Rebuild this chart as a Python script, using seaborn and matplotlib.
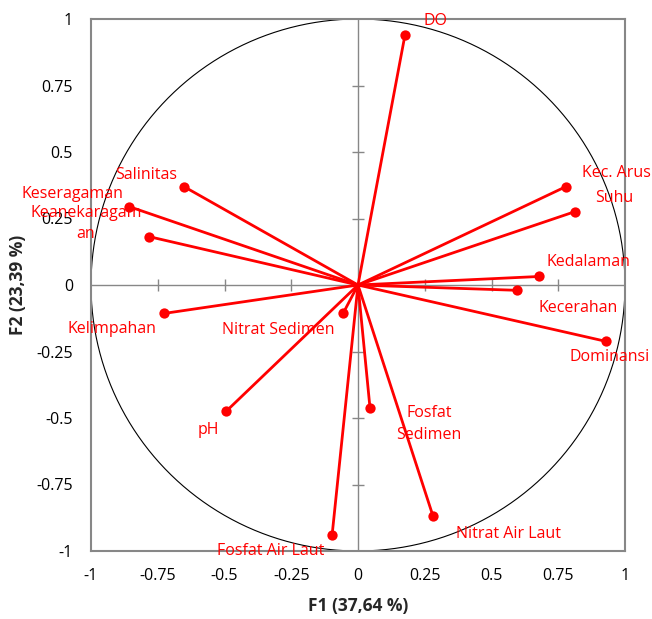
import matplotlib
matplotlib.use("Agg")
import matplotlib.pyplot as plt
import seaborn as sns
import numpy as np
import pandas as pd

variables = ["DO", "Kec. Arus", "Suhu", "Kedalaman", "Kecerahan", "Dominansi",
             "Salinitas", "Keseragaman", "Keanekaragam\nan", "Kelimpahan",
             "Nitrat Sedimen", "pH", "Fosfat\nSedimen", "Nitrat Air Laut",
             "Fosfat Air Laut"]
f1 = [0.176, 0.779, 0.813, 0.678, 0.596, 0.929,
      -0.652, -0.858, -0.783, -0.727,
      -0.056, -0.494, 0.045, 0.281, -0.097]
f2 = [0.940, 0.370, 0.276, 0.032, -0.020, -0.212,
      0.370, 0.295, 0.182, -0.107,
      -0.107, -0.475, -0.463, -0.869, -0.940]
tick_values = [-1, -0.75, -0.5, -0.25, 0, 0.25, 0.5, 0.75, 1]
tick_labels = ["-1", "-0.75", "-0.5", "-0.25", "0", "0.25", "0.5", "0.75", "1"]

# label offsets in pixels (style/position, not data)
label_offsets = [(31, 14), (50, 14), (39, 14), (49, 14), (61, -18), (4, -16),
                 (-38, 12), (-56, 13), (-63, 13), (-52, -16),
                 (-65, -17), (-18, -19), (59, -16), (75, -18), (-61, -16)]

df = pd.DataFrame({"variable": variables, "F1": f1, "F2": f2})

sns.set_theme(style="white")
plt.rcParams['font.family'] = ['Open Sans', 'DejaVu Sans']

fig = plt.figure(figsize=(6.52, 6.19), dpi=100)
ax = fig.add_axes([91/652, 1-551/619, (625-91)/652, (551-19)/619])

red = "#FF0000"
grey = "#878787"

# center axes lines
ax.axhline(0, color=grey, lw=1.0, zorder=1)
ax.axvline(0, color=grey, lw=1.0, zorder=1)
inner = [t for t in tick_values if abs(t) < 1 and t != 0]
ax.scatter(inner, [0]*len(inner), marker='|', s=70, color=grey, lw=1.0, zorder=1)
ax.scatter([0]*len(inner), inner, marker='_', s=70, color=grey, lw=1.0, zorder=1)

# unit circle
theta = np.linspace(0, 2*np.pi, 400)
ax.plot(np.cos(theta), np.sin(theta), color="black", lw=0.8, zorder=2)

# vectors
for x, y in zip(df["F1"], df["F2"]):
    ax.plot([0, x], [0, y], color=red, lw=2.0, zorder=3, solid_capstyle='butt')
sns.scatterplot(data=df, x="F1", y="F2", color=red, s=55, edgecolor=red,
                linewidth=0, zorder=4, ax=ax, legend=False)

for (name, x, y), (dx, dy) in zip(zip(df["variable"], df["F1"], df["F2"]), label_offsets):
    ax.annotate(name, (x, y), xytext=(dx, dy), textcoords='offset pixels',
                ha='center', va='center', color=red, fontsize=11.5,
                linespacing=1.45, zorder=5, annotation_clip=False)

ax.set_xlim(-1, 1)
ax.set_ylim(-1, 1)
ax.set_xticks(tick_values)
ax.set_xticklabels(tick_labels)
ax.set_yticks(tick_values)
ax.set_yticklabels(tick_labels)
ax.tick_params(axis='both', length=0, labelsize=11.5, colors='black')
ax.tick_params(axis='x', pad=12)
ax.tick_params(axis='y', pad=13)
for s in ax.spines.values():
    s.set_color(grey)
    s.set_linewidth(1.5)
    s.set_visible(True)
ax.set_xlabel("")
ax.set_ylabel("")
fig.text(358/652, 1-606/619, "F1 (37,64 %)", ha='center', va='center',
         fontsize=12.5, fontweight='bold')
fig.text(18/652, 1-285/619, "F2 (23,39 %)", ha='center', va='center',
         fontsize=12.5, fontweight='bold', rotation=90)
ax.grid(False)

fig.savefig("out.png", dpi=100)
